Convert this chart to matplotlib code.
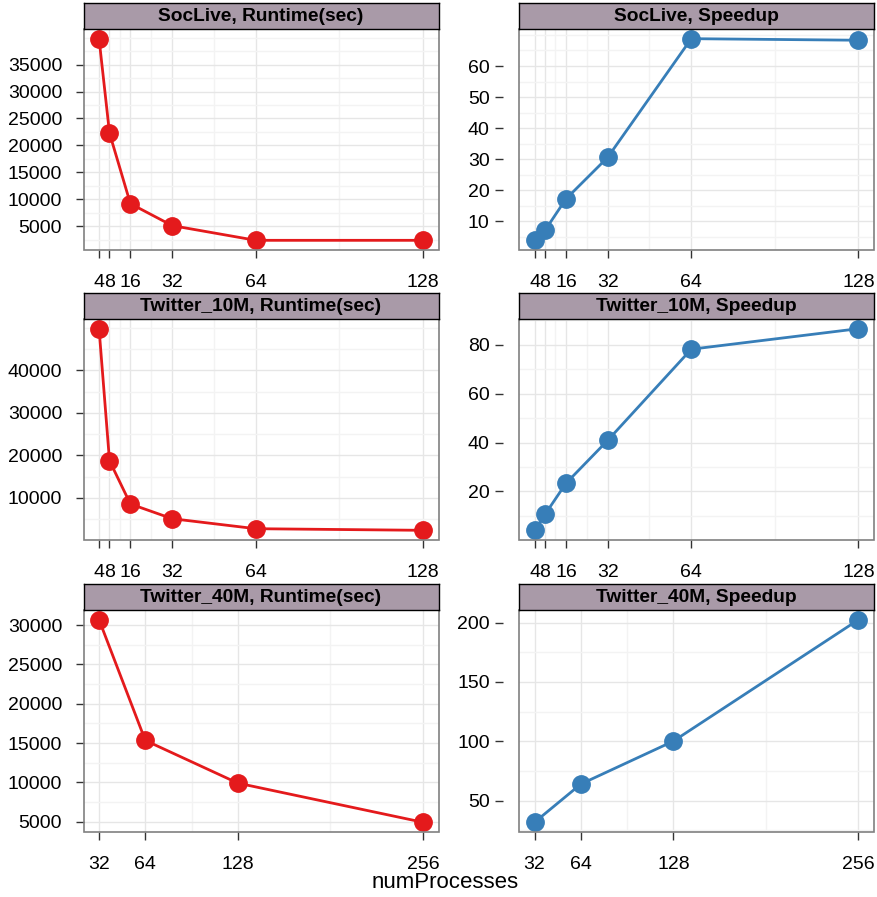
import matplotlib
matplotlib.use('Agg')
import matplotlib.pyplot as plt
from matplotlib.patches import Rectangle
from matplotlib.ticker import FixedLocator

plt.rcParams['font.family'] = ['Liberation Sans', 'DejaVu Sans']

# numProcesses used for SocLive / Twitter_10M, and for Twitter_40M
procs_small = [4, 8, 16, 32, 64, 128]
procs_40m = [32, 64, 128, 256]

# values
soclive_runtime = [39800, 22300, 9200, 5130, 2400, 2400]
soclive_speedup = [3.9, 7.1, 17.2, 30.6, 68.8, 68.3]
tw10m_runtime = [49800, 18770, 8590, 5130, 2780, 2400]
tw10m_speedup = [4.1, 10.6, 23.3, 40.9, 78.2, 86.6]
tw40m_runtime = [30690, 15330, 9900, 4920]
tw40m_speedup = [31.7, 63.9, 100.1, 202.5]

titles = ['SocLive, Runtime(sec)', 'SocLive, Speedup',
          'Twitter_10M, Runtime(sec)', 'Twitter_10M, Speedup',
          'Twitter_40M, Runtime(sec)', 'Twitter_40M, Speedup']

red = '#E41A1C'
blue = '#377EB8'
strip_col = '#A99AA8'

# (x, y, colour, y ticks, y minor step)
panels = [
    (procs_small, soclive_runtime, red, list(range(5000, 35001, 5000)), 2500),
    (procs_small, soclive_speedup, blue, list(range(10, 61, 10)), 5),
    (procs_small, tw10m_runtime, red, list(range(10000, 40001, 10000)), 5000),
    (procs_small, tw10m_speedup, blue, list(range(20, 81, 20)), 10),
    (procs_40m, tw40m_runtime, red, list(range(5000, 30001, 5000)), 2500),
    (procs_40m, tw40m_speedup, blue, list(range(50, 201, 50)), 25),
]

W, H = 877, 897
fig = plt.figure(figsize=(W / 100, H / 100), dpi=100)

col_left = [83.5, 519]
col_w = 355
row_top = [29, 319, 610]
row_h = [221, 221, 222]
strip_h = 26

for i, (x, y, colour, yticks, ystep) in enumerate(panels):
    r, c = divmod(i, 2)
    x0 = col_left[c]
    top = row_top[r]
    ax = fig.add_axes([x0 / W, 1 - (top + row_h[r]) / H, col_w / W, row_h[r] / H])

    # strip header
    sax = fig.add_axes([x0 / W, 1 - top / H, col_w / W, strip_h / H])
    sax.set_facecolor(strip_col)
    sax.set_xticks([])
    sax.set_yticks([])
    for sp in sax.spines.values():
        sp.set_color('black')
        sp.set_linewidth(1)
    sax.text(0.5, 0.48, titles[i], ha='center', va='center', fontsize=13.8,
             fontweight='bold', transform=sax.transAxes)

    ax.plot(x, y, '-o', color=colour, lw=2, ms=12.5, zorder=3)

    # padded limits like lattice
    xr = max(x) - min(x)
    yr = max(y) - min(y)
    ax.set_xlim(min(x) - 0.048 * xr, max(x) + 0.048 * xr)
    ax.set_ylim(min(y) - 0.048 * yr, max(y) + 0.048 * yr)

    ax.set_xticks(x)
    ax.set_xticklabels([str(v) for v in x])
    xminor = [(a + b) / 2 for a, b in zip(x[1:-1], x[2:])]
    ax.xaxis.set_minor_locator(FixedLocator(xminor))
    ax.set_yticks(yticks)
    ylo, yhi = ax.get_ylim()
    yminor = [v for v in range(0, int(yhi) + ystep, ystep) if v not in yticks]
    ax.yaxis.set_minor_locator(FixedLocator(yminor))

    ax.grid(which='major', color='#E6E6E6', lw=1)
    ax.grid(which='minor', color='#F3F3F3', lw=1)
    ax.set_axisbelow(True)

    for sp in ax.spines.values():
        sp.set_visible(False)
    ax.add_patch(Rectangle((0, 0), 1, 1, transform=ax.transAxes, fill=False,
                           edgecolor='#808080', lw=1.2, zorder=4, clip_on=False))

    ax.tick_params(which='minor', length=0)
    ax.tick_params(axis='x', which='major', length=6, width=1, color='#333333',
                   labelsize=14, pad=11)
    if c == 0:
        ax.tick_params(axis='y', which='major', length=6, width=1, color='#333333',
                       labelsize=14, pad=9.4)
    else:
        ax.spines['left'].set_position(('outward', 11.5))
        ax.tick_params(axis='y', which='major', length=6, width=1, color='#333333',
                       labelsize=14, pad=3.6)

fig.text(445 / W, 1 - 882 / H, 'numProcesses', ha='center', va='center', fontsize=16)

plt.savefig('out.png', dpi=100)
